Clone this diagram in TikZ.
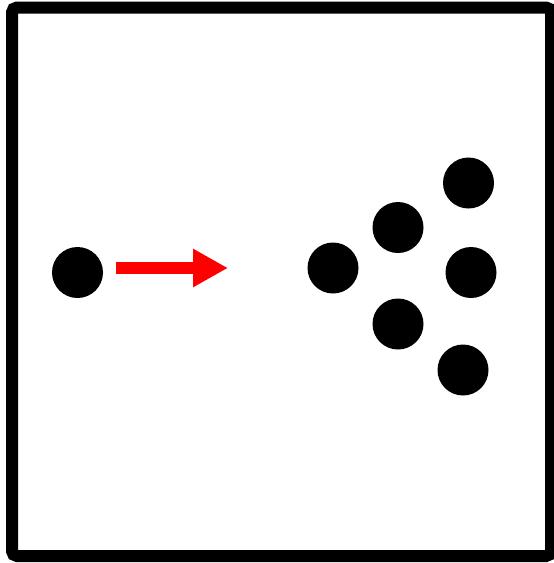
\documentclass[tikz,border=0pt]{standalone}
\usepackage{tikz}
\usepackage{xcolor}
\usetikzlibrary{positioning, arrows.meta}

\begin{document}
\begin{tikzpicture}[
          x=1pt, y=-1pt,
          dot/.style={circle, fill=black, inner sep=0pt, minimum size=51pt},
          push/.style={draw=red, line width=12pt, -{Triangle[length=35pt, width=36pt]}},
        ]
        \useasboundingbox (0,0) rectangle (554,563);
        \draw[line width=12pt, rounded corners=5pt] (12,7.5) rectangle (551,556);
        \node[dot] (p0) at (77.5,272.5) {};
        \coordinate (a0) at (116,268);
        \coordinate (a1) at (228,268);
        \draw[push] (a0) -- (a1);
        \node[dot] (p1) at (333,268) {};
        \node[dot] (p2) at (398,227.5) {};
        \node[dot] (p3) at (398,324) {};
        \node[dot] (p4) at (468.5,183) {};
        \node[dot] (p5) at (471,272.5) {};
        \node[dot] (p6) at (463,370) {};
      \end{tikzpicture}
\end{document}
